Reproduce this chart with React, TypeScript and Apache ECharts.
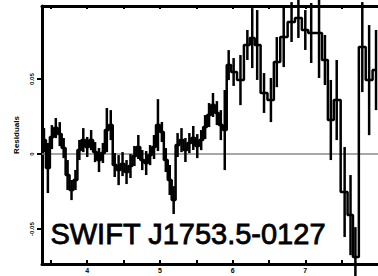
import React, { useEffect, useRef } from "react";
import * as echarts from "echarts";

// Bin centres (keV)
const energies = [
  3.405, 3.459, 3.514, 3.568, 3.622, 3.676, 3.73, 3.784, 3.838, 3.892, 3.946, 4.0,
  4.054, 4.108, 4.162, 4.216, 4.27, 4.324, 4.378, 4.432, 4.486, 4.541, 4.595, 4.649,
  4.703, 4.757, 4.811, 4.865, 4.919, 4.973, 5.027, 5.081, 5.135, 5.189, 5.243, 5.297,
  5.351, 5.405, 5.459, 5.514, 5.568, 5.622, 5.676, 5.73, 5.784, 5.838, 5.892, 5.946,
  6.014, 6.108, 6.203, 6.27, 6.338, 6.432, 6.527, 6.608, 6.703, 6.811, 6.905, 7.0,
  7.081, 7.189, 7.27, 7.351, 7.432, 7.541, 7.622, 7.689, 7.784, 7.878, 7.973,
];

// Residuals
const residuals = [
  0.0093, -0.0093, 0.0113, 0.0173, 0.0133, 0.004, -0.014, -0.024, -0.0173, 0.0027, 0.0093, 0.0047,
  0.0093, 0.0013, -0.004, 0.0007, 0.016, 0.0193, -0.0073, -0.0107, -0.0067, -0.012, -0.008, -0.0013,
  0.0047, -0.004, -0.006, -0.0007, 0.0047, 0.0193, 0.0147, -0.004, -0.0173, -0.0307, 0.006, 0.0093,
  0.0027, 0.0073, 0.0107, 0.0053, 0.0093, 0.018, 0.026, 0.0327, 0.0273, 0.0193, 0.016, 0.0593,
  0.0547, 0.0493, 0.0727, 0.0773, 0.0727, 0.0407, 0.036, 0.0613, 0.078, 0.088, 0.0907, 0.0827,
  0.0807, 0.0807, 0.0627, 0.0227, 0.036, -0.0253, -0.0407, -0.0687, 0.0713, 0.0493, 0.056,
];

// 1-sigma errors
const errors = [
  0.008, 0.0167, 0.008, 0.0067, 0.008, 0.0067, 0.01, 0.0067, 0.0067, 0.0067, 0.008, 0.0067,
  0.0067, 0.0067, 0.008, 0.0067, 0.0147, 0.01, 0.008, 0.01, 0.008, 0.008, 0.008, 0.0067,
  0.008, 0.0067, 0.008, 0.0067, 0.008, 0.0173, 0.0067, 0.008, 0.01, 0.0093, 0.008, 0.008,
  0.008, 0.0067, 0.008, 0.008, 0.0067, 0.008, 0.008, 0.008, 0.008, 0.01, 0.0267, 0.01,
  0.0093, 0.0167, 0.01, 0.02, 0.0233, 0.0133, 0.0147, 0.0167, 0.02, 0.0133, 0.0133, 0.0133,
  0.02, 0.03, 0.0167, 0.0267, 0.0267, 0.03, 0.0267, 0.02, 0.03, 0.0367, 0.0267,
];

const xTickValues = [3.5, 4, 4.5, 5, 5.5, 6, 6.5, 7, 7.5];
const xLabelValues = [4, 5, 6, 7];
const yTickValues = [-0.05, 0, 0.05];
const title = "SWIFT J1753.5-0127";
const yTitle = "Residuals";

const X_MIN = 3.378;
const X_MAX = 8.0;
const Y_MIN = -0.0733;
const Y_MAX = 0.0987;

export default function App() {
  const ref = useRef<HTMLDivElement>(null);
  useEffect(() => {
    if (!ref.current) return;
    const chart = echarts.init(ref.current, undefined, { renderer: "svg" });
    const stepData = energies.map((e, i) => [e, residuals[i]]);
    const errData = energies.map((e, i) => [e, residuals[i], errors[i]]);
    chart.setOption({
      animation: false,
      backgroundColor: "#fff",
      grid: { left: 42, top: 6, right: -6, bottom: 12, containLabel: false },
      xAxis: [
        {
          type: "value",
          min: X_MIN,
          max: X_MAX,
          position: "bottom",
          axisLine: { show: true, onZero: false, lineStyle: { color: "#000", width: 3 } },
          axisTick: { show: true, inside: true, length: 4, customValues: xTickValues, lineStyle: { color: "#000", width: 2 } },
          axisLabel: {
            show: true,
            customValues: xLabelValues,
            fontSize: 7,
            fontWeight: "bold",
            color: "#000",
            margin: 3,
            fontFamily: "Liberation Sans",
          },
          splitLine: { show: false },
        },
        {
          type: "value",
          min: X_MIN,
          max: X_MAX,
          position: "top",
          axisLine: { show: true, onZero: false, lineStyle: { color: "#000", width: 3 } },
          axisTick: { show: true, inside: true, length: 3, customValues: xTickValues, lineStyle: { color: "#000", width: 2 } },
          axisLabel: { show: false },
          splitLine: { show: false },
        },
      ],
      yAxis: {
        type: "value",
        min: Y_MIN,
        max: Y_MAX,
        name: yTitle,
        nameLocation: "middle",
        nameGap: 22,
        nameRotate: 90,
        nameTextStyle: { fontSize: 8, fontWeight: "bold", color: "#000", fontFamily: "Liberation Sans" },
        axisLine: { show: true, onZero: false, lineStyle: { color: "#000", width: 3 } },
        axisTick: { show: true, inside: false, length: 5, customValues: yTickValues, lineStyle: { color: "#000", width: 2 } },
        axisLabel: {
          show: true,
          customValues: yTickValues,
          rotate: 90,
          fontSize: 6,
          fontWeight: "bold",
          color: "#000",
          margin: 7,
          fontFamily: "Liberation Sans",
          formatter: (v: number) => (v === 0 ? "0" : v.toFixed(2)),
        },
        splitLine: { show: false },
      },
      series: [
        {
          type: "line",
          data: [[X_MIN, 0], [X_MAX, 0]],
          symbol: "none",
          silent: true,
          lineStyle: { color: "#8a8a8a", width: 1.5 },
          z: 1,
        },
        {
          type: "line",
          data: stepData,
          step: "middle",
          symbol: "none",
          lineStyle: { color: "#000", width: 2.5 },
          z: 3,
        },
        {
          type: "custom",
          data: errData,
          z: 4,
          renderItem: (params: any, api: any) => {
            const x = api.value(0);
            const y = api.value(1);
            const e = api.value(2);
            const p1 = api.coord([x, y + e]);
            const p2 = api.coord([x, y - e]);
            return {
              type: "line",
              shape: { x1: p1[0], y1: p1[1], x2: p2[0], y2: p2[1] },
              style: { stroke: "#000", lineWidth: 2.5 },
            };
          },
        },
      ],
      graphic: [
        {
          type: "text",
          left: 50,
          top: 219,
          z: 10,
          style: {
            text: title,
            fill: "#000",
            stroke: "#000",
            lineWidth: 0.8,
            font: '29px "Liberation Sans"',
          },
        },
      ],
    });
    return () => chart.dispose();
  }, []);
  return (
    <div
      ref={ref}
      style={{ position: "absolute", left: 0, top: 0, width: 378, height: 276 }}
    />
  );
}
